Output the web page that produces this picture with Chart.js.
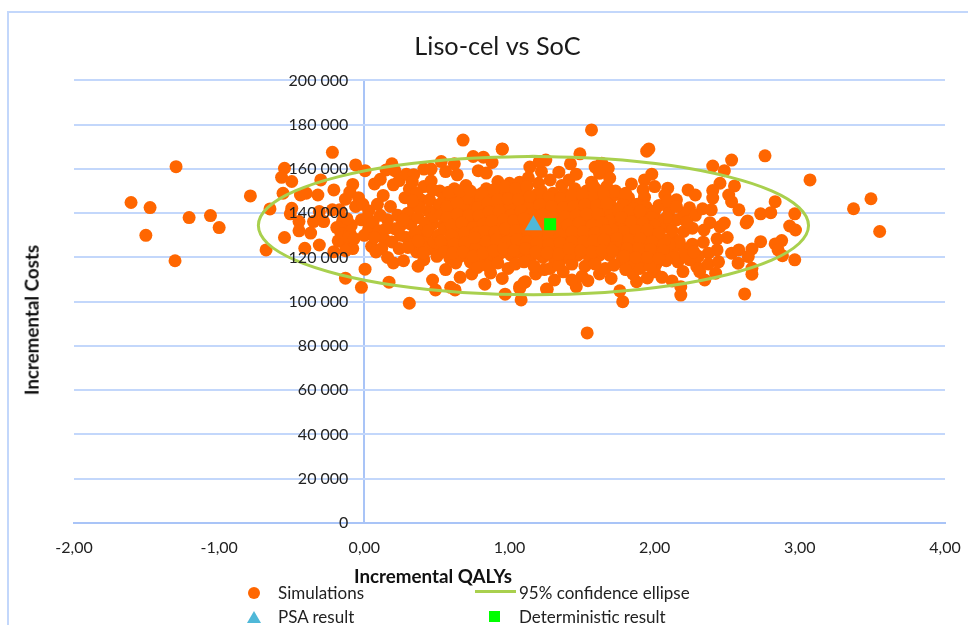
<!DOCTYPE html>
<html><head><meta charset="utf-8">
<script src="https://cdn.jsdelivr.net/npm/chart.js@4/dist/chart.umd.min.js"></script>
<style>
html,body{margin:0;padding:0;background:#fff;overflow:hidden}
#frame{position:absolute;left:7px;top:11px;width:980px;height:640px;border:2px solid #c3d7fb;box-sizing:border-box}
#wrap{position:absolute;left:0;top:0;width:968px;height:625px}
canvas{position:absolute;left:0;top:0}
.t{position:absolute;font-family:Lato,sans-serif;color:#222;white-space:nowrap;line-height:1}
.b{font-weight:700;font-size:18.8px;color:#111}
.leg{font-size:17px}
.m{position:absolute}
</style></head><body>
<div id="frame"></div>
<div id="wrap"><canvas id="c" width="968" height="625"></canvas></div>
<div class="t b" id="xt" style="left:354px;top:567px"></div>
<div class="t b" id="yt" style="left:32px;top:320px;transform:translate(-50%,-50%) rotate(-90deg)"></div>
<div class="m" style="left:248px;top:587px;width:12px;height:12px;border-radius:50%;background:#ff6600"></div>
<div class="t leg" id="l0" style="left:278px;top:584px"></div>
<div class="m" style="left:475px;top:590px;width:41px;height:3px;background:#a9d04e"></div>
<div class="t leg" id="l1" style="left:519px;top:584px"></div>
<div class="m" style="left:247px;top:611px;width:0;height:0;border-left:7px solid transparent;border-right:7px solid transparent;border-bottom:12px solid #4fb8d8"></div>
<div class="t leg" id="l2" style="left:278px;top:608px"></div>
<div class="m" style="left:489px;top:611px;width:11px;height:11px;background:#00ff00"></div>
<div class="t leg" id="l3" style="left:519px;top:608px"></div>
<script>
const chartTitle = "Liso-cel vs SoC";
const xAxisTitle = "Incremental QALYs";
const yAxisTitle = "Incremental Costs";
const seriesNames = ["Simulations", "95% confidence ellipse", "PSA result", "Deterministic result"];

// [QALYs, costs in thousands]
const simsOutliers = [[-1.607,144.8],[-1.476,142.5],[-1.297,161],[-1.505,130],[-1.304,118.5],[-1.207,138],[-1.06,138.9],[-1,133.5],[-0.785,147.8],[-0.677,123.4],
[3.07,155],[3.37,142],[3.49,146.5],[3.55,131.7],[1.535,85.9],[1.565,177.6],[0.31,99.3],[0.68,173],[1.945,168],[1.96,169]];
const simsLeft = [[-0.22,167.5],[-0.55,160.3],[-0.57,156.2],[-0.5,154.3],[-0.56,149],[-0.44,148.2],[-0.4,149],[-0.32,148.2],[-0.3,155],[-0.21,150.5],[-0.06,161.8],[0.005,159.2],[-0.08,153],[-0.13,146.3],[-0.65,141.9],[-0.5,142.2],[-0.51,139.7],[-0.45,136.2],[-0.35,136.2],[-0.31,140.7],[-0.28,136.2],[-0.22,141.5],[-0.17,141.5],[-0.45,132],[-0.37,131],[-0.55,129],[-0.31,125.6],[-0.41,124.1],[-0.21,122.6],[0.005,114.7],[-0.13,110.6],[-0.02,106.5],[0.17,108.8],
[-0.19,133.5],[-0.16,130.5],[-0.13,134],[-0.1,131],[-0.18,127.5],[-0.14,126.5],[-0.1,127.5],[-0.08,124],[-0.13,123],[-0.09,134.5],[-0.15,136.5],[-0.11,129],[-0.07,128.5],[-0.12,137.5],
[-0.1,149.5],[-0.04,147],[-0.06,143],[-0.01,144],[0.03,141],[-0.02,137],[0.03,133],[0.0,130],[0.05,125],[0.08,122.5],[0.02,138],[0.06,136],[0.1,132],[0.14,128],[0.12,124],[0.16,120],[0.2,117.5],[0.27,118.5],[0.09,144],[0.13,148],[0.18,143],[0.16,137],[0.21,133],[0.19,127],[0.24,124],[0.23,139],[0.28,147],[0.31,151],[0.34,143],[0.32,135],[0.29,129],[0.36,122.5],[0.41,119],[0.37,116],
[0.19,162.3],[0.15,159.5],[0.21,159.2],[0.07,153.2],[0.11,155.3],[0.2,152.8],[0.24,154.7],[0.29,157.6],[0.34,157.3],[0.41,159.9],[0.46,159.9],[0.53,163.3],[0.75,165.6],[0.82,165.3],[0.88,162.9],[0.95,169],[0.62,162.3],[0.56,158.8],[0.64,157.3],[0.785,159.2],[0.84,158.1],[0.41,152],[0.46,154.5],[0.52,150],[0.39,146],[0.44,141],[0.47,135],[0.42,129],[0.46,124],
[0.26,135],[0.3,140],[0.37,138],[0.39,132],[0.34,126],[0.4,125],[0.25,130],[0.07,129],[0.11,139],[0.15,133],[0.36,149],[0.33,154],
[0.35,131],[0.42,135.5],[0.38,142.5],[0.45,146],[0.48,138.5],[0.44,132],[0.48,127],[0.41,122],[0.3,124.5],[0.27,137],[0.47,150.5],[0.5,141.5],[0.37,127.5],[0.33,145.5]];
const simsBottom = [[0.47,109.8],[0.49,105.3],[0.595,106.5],[0.625,105.3],[0.66,111],[0.83,107.9],[0.97,103.4],[1.08,100.8],[1.07,106.8],[1.11,109],[1.26,105.6],[1.46,106.8],[1.43,109.8],[1.31,109.8],[1.255,105.7],[1.07,106],[1.1,108.6],[1.78,100],[1.76,104.9],[1.95,110.7],[1.875,109],[2.12,109.4],[2.18,106.8],[2.18,103],[2.345,109.8],[2.42,112.9],[2.29,115.8],[2.195,113.6],[2.31,113.6],[0.56,114.5],[0.63,117.5],[0.74,112.5],[0.87,113],[0.95,110.5],[0.99,115],[1.18,112.5],[1.24,114.5],[1.37,113.5],[1.5,111.5],[1.54,109.5],[1.62,112.5],[1.66,115],[1.7,110.5],[1.85,112.5],[2.0,113.5],[2.05,111]];
const simsTop = [[1.14,160.8],[1.22,158.8],[1.205,163.3],[1.25,164],[0.95,168.9],[1.485,166.8],[1.42,162.3],[1.34,158.5],[1.46,157.6],[1.59,160.8],[1.635,162.6],[1.68,160.3],[1.62,158],[1.565,154],[1.69,155.8],[1.84,153.2],[1.93,155],[1.98,157.6],[2,152],[1.92,150.5],[1.93,147.2],[2.09,151.3],[2.07,148.2],[2.23,150.5],[2.28,148.2],[2.15,146],[2.24,142.4],[0.92,154.3],[1.0,153.5],[1.07,154],[1.13,156],[1.2,153.5],[1.28,155],[1.36,152.5],[1.41,155]];
const simsRight = [[2.4,161.3],[2.53,164],[2.76,165.9],[2.48,159.2],[2.45,153.5],[2.55,152.3],[2.4,150.2],[2.4,146.8],[2.51,148.2],[2.53,145.2],[2.58,141.5],[2.83,145.2],[2.73,139.7],[2.8,140.2],[2.965,139.7],[2.93,134.2],[2.97,132.4],[2.63,135.6],[2.64,136.5],[2.73,127.1],[2.875,127.6],[2.83,126.1],[2.85,123.4],[2.88,120.8],[2.965,118.9],[2.5,129],[2.335,126.9],[2.34,132.4],[2.26,133.2],[2.2,131.7],[2.38,135.7],[2.45,133.9],[2.48,135.5],[2.43,128.4],[2.43,123.4],[2.37,121.9],[2.53,121.9],[2.58,123.4],[2.67,123.8],[2.645,120.4],[2.575,117.4],[2.67,115.1],[2.67,112.4],[2.62,103.5],
[2.26,126],[2.2,124],[2.3,120.5],[2.24,119],[2.16,118],[2.37,117],[2.12,123],[2.13,128.5],[2.08,134],[2.15,137],[2.1,141],[2.03,143.5],[2.2,140],[2.28,139],[2.33,142],[2.39,141.5],[2.44,118],
[2.12,132],[2.17,127],[2.08,138],[2.1,126],[2.2,121],[2.13,120],[2.09,145.5],[2.15,143],[2.22,136],[2.27,122.5]];
const simsCore = [
[0.55,147],[0.62,151],[0.7,152.5],[0.77,148],[0.84,151],[1.22,150],[1.3,149],[1.38,148.5],[1.45,151],[1.53,150],[1.6,150.5],[1.67,152],[1.75,148.5],[1.82,147],[1.88,144],
[0.52,144],[0.6,146],[0.67,147.5],[0.74,144],[0.8,146.5],[0.88,147.5],[0.95,149.5],[1.02,148],[1.09,150],[1.16,146.5],[1.24,145.5],[1.32,144],[1.4,145],[1.48,146.5],[1.56,145.5],[1.63,146],[1.7,147],[1.78,144],[1.85,142],[1.94,143],[2.0,141],
[0.53,139.5],[0.6,141.5],[0.67,142.5],[0.75,140],[0.82,142],[0.89,143],[0.96,144.5],[1.03,143.5],[1.1,145],[1.18,142],[1.26,141],[1.33,139.5],[1.41,141],[1.49,142],[1.57,141],[1.64,142],[1.71,142.5],[1.79,139.5],[1.87,138],[1.95,139],[2.02,137],
[0.55,135],[0.62,137],[0.7,138],[0.77,136],[0.84,138],[0.91,138.5],[0.98,140],[1.05,139],[1.12,140],[1.2,138],[1.28,137],[1.36,136],[1.43,137],[1.51,138],[1.59,137],[1.66,138],[1.73,138.5],[1.81,135.5],[1.89,134.5],[1.97,135],[2.04,133],
[0.51,130],[0.58,132.5],[0.65,133.5],[0.72,131.5],[0.79,133.5],[0.86,134],[0.93,135.5],[1.0,134.5],[1.07,135.5],[1.14,134],[1.22,133],[1.3,132.5],[1.38,133],[1.46,134],[1.54,133],[1.61,134],[1.68,134.5],[1.76,131.5],[1.84,130.5],[1.92,131],[2.0,129.5],
[0.53,125.5],[0.6,128],[0.67,129],[0.74,127],[0.81,129],[0.88,129.5],[0.95,131],[1.02,130],[1.09,131],[1.16,129.5],[1.24,129],[1.32,128],[1.4,129],[1.48,130],[1.56,129],[1.63,130],[1.7,130],[1.78,127.5],[1.86,126.5],[1.94,127],[2.02,125.5],[2.07,128],
[0.5,120.5],[0.57,123.5],[0.64,124.5],[0.71,122.5],[0.78,124.5],[0.85,125],[0.92,126.5],[0.99,125.5],[1.06,126.5],[1.13,125],[1.21,124.5],[1.29,123.5],[1.37,124.5],[1.45,125.5],[1.53,124.5],[1.6,125.5],[1.67,125.5],[1.75,123],[1.83,122],[1.91,122.5],[1.99,121],[2.06,123],
[0.59,119.5],[0.66,120.5],[0.73,118],[0.8,120],[0.87,120.5],[0.94,122],[1.01,121],[1.08,122],[1.15,120.5],[1.23,120],[1.31,119],[1.39,120],[1.47,121],[1.55,120],[1.62,121],[1.69,121],[1.77,118.5],[1.85,117.5],[1.93,118],[2.01,117],[2.08,118.5],
[0.78,115.5],[0.85,116],[0.92,117.5],[1.04,117],[1.1,118],[1.17,116],[1.28,115],[1.34,116.5],[1.43,117],[1.52,116],[1.59,117],[1.72,116.5],[1.8,114.5],[1.9,115],[1.97,116],
[0.7,146],[0.9,136],[1.0,142],[1.1,128],[1.25,135],[1.35,141],[1.45,128],[1.55,136],[1.65,145],[1.72,126],[1.8,133],[0.75,126],[0.83,136],[0.62,131],[0.7,135],[1.15,137],[1.33,124.5],[1.42,122],[1.5,136],[1.6,127],[1.68,141],[1.76,136],[0.95,128],[1.06,123],[1.13,143],[1.3,146],[1.47,140],[1.57,148],[1.83,125],[1.9,137]
];
const simsCoreExtra = [
[0.58,149.5],[0.66,150],[0.73,150],[0.81,149],[0.89,150.5],[0.97,152],[1.04,151],[1.12,152],[1.19,148.5],[1.27,147],[1.35,146.5],[1.43,148],[1.5,148.5],[1.58,152],[1.65,149],[1.73,150],[1.8,149],
[0.57,143],[0.64,144.5],[0.71,141],[0.78,142.5],[0.85,144.5],[0.92,146],[0.99,146.5],[1.06,146],[1.14,147.5],[1.21,144],[1.29,143],[1.37,142.5],[1.44,143],[1.52,144],[1.6,143.5],[1.67,144.5],[1.75,141.5],[1.82,140.5],[1.9,141],[1.98,138],
[0.57,138],[0.64,139.5],[0.72,139],[0.79,139],[0.86,140.5],[0.93,141],[1.01,139],[1.08,141],[1.15,139.5],[1.23,139.5],[1.3,138],[1.38,138.5],[1.46,139],[1.53,139.5],[1.61,139.5],[1.69,136.5],[1.77,138],[1.84,136],[1.92,135.5],[2.0,134.5],
[0.55,133],[0.6,134.5],[0.67,135.5],[0.75,133.5],[0.82,135],[0.88,136.5],[0.96,137],[1.03,136.5],[1.1,137.5],[1.17,135.5],[1.3,134.5],[1.4,134.5],[1.48,135.5],[1.57,134.5],[1.64,135.5],[1.71,132.5],[1.79,131.5],[1.87,132],[1.95,132.5],[2.03,131],
[0.53,127.5],[0.6,130],[0.69,131],[0.77,131],[0.83,131.5],[0.9,131.5],[0.97,133],[1.04,132],[1.12,132.5],[1.19,131],[1.27,130.5],[1.35,130],[1.43,131.5],[1.51,131.5],[1.59,131],[1.66,132],[1.74,128.5],[1.82,128],[1.9,128.5],[1.98,127],
[0.55,122.5],[0.62,126],[0.69,126.5],[0.76,129],[0.84,127],[0.91,128],[0.98,127],[1.05,128],[1.12,127],[1.19,126.5],[1.27,126],[1.35,126.5],[1.43,127],[1.51,127],[1.58,127.5],[1.65,128],[1.73,124.5],[1.81,124],[1.89,124],[1.97,123.5],
[0.61,122],[0.68,122.5],[0.75,120.5],[0.82,122],[0.89,123],[0.96,124],[1.03,123],[1.11,124],[1.18,122.5],[1.26,122],[1.34,121.5],[1.41,124],[1.49,123],[1.57,122.5],[1.64,123],[1.71,123],[1.79,120.5],[1.87,120],[1.95,120],[2.03,119.5]
];
const simulations = [...simsOutliers, ...simsLeft, ...simsBottom, ...simsTop, ...simsRight, ...simsCore, ...simsCoreExtra];
const ellipse = [[1.165,165.7],[0.674,164.6],[0.218,161.5],[-0.175,156.5],[-0.476,150.05],[-0.666,142.5],[-0.73,134.4],[-0.666,126.3],[-0.476,118.75],[-0.175,112.3],[0.218,107.3],[0.674,104.2],[1.165,103.1],[1.656,104.2],[2.113,107.3],[2.505,112.3],[2.806,118.75],[2.995,126.3],[3.06,134.4],[2.995,142.5],[2.806,150.05],[2.505,156.5],[2.113,161.5],[1.656,164.6],[1.165,165.7]];
const psaResult = [[1.165,134.5]];
const deterministicResult = [[1.28,135]];

const toXY = a => a.map(p => ({x: p[0], y: p[1] * 1000}));
["xt","yt","l0","l1","l2","l3"].forEach((id,i)=>{document.getElementById(id).textContent=[xAxisTitle,yAxisTitle,...seriesNames][i];});

const shiftTitle = { id:'shiftTitle', afterLayout(c){ c.titleBlock.left -= 12; c.titleBlock.right -= 12; } };
new Chart(document.getElementById('c'), {
  type: 'scatter',
  plugins: [shiftTitle],
  data: { datasets: [
    {label: seriesNames[0], data: toXY(simulations), backgroundColor:'#ff6600', borderColor:'#ff6600', pointRadius:6.5, pointBorderWidth:0, order:4},
    {label: seriesNames[1], data: toXY(ellipse), showLine:true, tension:0.38, borderColor:'#a9d04e', borderWidth:3, pointRadius:0, fill:false, order:3},
    {label: seriesNames[2], data: toXY(psaResult), pointStyle:'triangle', pointRadius:10, backgroundColor:'#4fb8d8', pointBorderWidth:0, order:2},
    {label: seriesNames[3], data: toXY(deterministicResult), pointStyle:'rect', pointRadius:8.5, backgroundColor:'#00ff00', pointBorderWidth:0, order:1}
  ]},
  options: {
    responsive:false, animation:false,
    layout:{padding:{left:74,right:23,top:10,bottom:102}},
    plugins:{
      legend:{display:false}, tooltip:{enabled:false},
      title:{display:true,text:chartTitle,color:'#1a1a1a',font:{family:'Lato',size:25.3,weight:'400'},padding:{top:22,bottom:18}}
    },
    scales:{
      x:{type:'linear',min:-2,max:4,position:{y:0},
        afterFit(s){ s.paddingRight = 0; s.paddingLeft = 0; },
        grid:{color:c=>c.tick&&c.tick.value===0?'#a9c4f7':'rgba(0,0,0,0)',lineWidth:2,drawTicks:false},
        border:{color:'#a9c4f7',width:2},
        ticks:{stepSize:1,maxRotation:0,padding:15,color:'#222',font:{family:'Lato',size:16},callback:v=>v.toFixed(2).replace('.',',')}},
      y:{type:'linear',min:0,max:200000,position:{x:-0.11},
        grid:{color:'#c3d7fb',lineWidth:2,drawTicks:false},
        border:{display:false},
        ticks:{stepSize:20000,z:1,color:'#222',font:{family:'Lato',size:16},callback:v=>String(v).replace(/\B(?=(\d{3})+$)/g,' ')}}
    }
  }
});
</script>
</body></html>
